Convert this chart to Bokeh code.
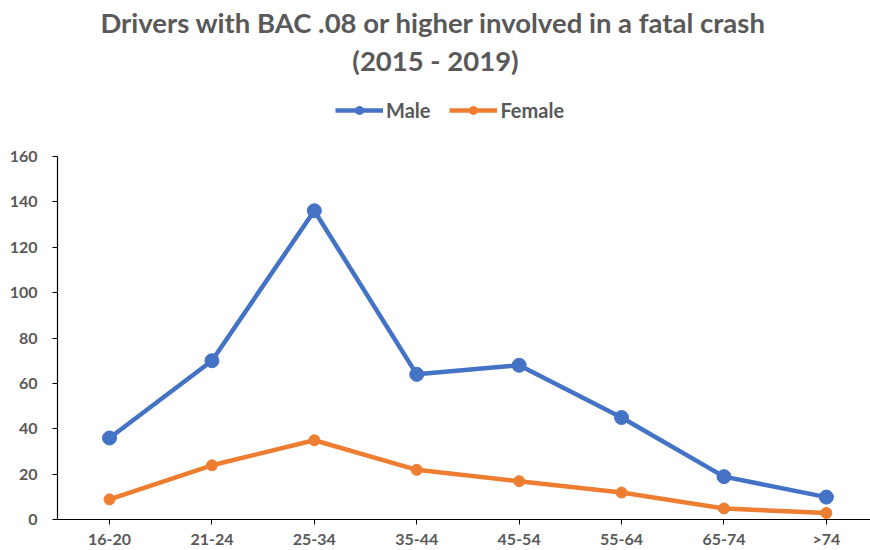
from bokeh.plotting import figure
from bokeh.models import Range1d, FixedTicker, Legend, LegendItem, Label
from bokeh.embed import file_html
from bokeh.resources import INLINE

categories = ["16-20", "21-24", "25-34", "35-44", "45-54", "55-64", "65-74", ">74"]
male = [36, 70, 136, 64, 68, 45, 19, 10]
female = [9, 24, 35, 22, 17, 12, 5, 3]
y_ticks = [0, 20, 40, 60, 80, 100, 120, 140, 160]
title_line1 = "Drivers with BAC .08 or higher involved in a fatal crash"
title_line2 = "(2015 - 2019)"

TEXT = "#595959"
FONT = "Lato"
BLUE = "#4472C4"
ORANGE = "#ED7D31"

xs = list(range(len(categories)))

p = figure(width=870, height=550, output_backend="svg", toolbar_location=None,
           x_range=Range1d(-0.508, 7.431), y_range=Range1d(-13.5, 228.5),
           min_border_left=57, min_border_right=0, min_border_top=0, min_border_bottom=0)
p.outline_line_color = None
p.xgrid.grid_line_color = None
p.ygrid.grid_line_color = None
p.background_fill_color = "white"
p.border_fill_color = "white"

lm = p.line(xs, male, line_color=BLUE, line_width=4.5)
sm = p.scatter(xs, male, size=14, fill_color=BLUE, line_color=BLUE)
lf = p.line(xs, female, line_color=ORANGE, line_width=4.5)
sf = p.scatter(xs, female, size=11, fill_color=ORANGE, line_color=ORANGE)

for ax in (p.xaxis[0], p.yaxis[0]):
    ax.axis_line_color = "#000000"
    ax.axis_line_width = 1.2
    ax.major_tick_line_color = "#000000"
    ax.major_tick_out = 5
    ax.major_tick_in = 0
    ax.minor_tick_line_color = None
    ax.major_label_text_font = FONT
    ax.major_label_text_font_style = "bold"
    ax.major_label_text_font_size = "16px"
    ax.major_label_text_color = TEXT

p.xaxis.ticker = FixedTicker(ticks=xs)
p.xaxis.major_label_overrides = {i: c for i, c in enumerate(categories)}
p.xaxis.major_label_standoff = 4
p.xaxis.fixed_location = 0
p.yaxis.ticker = FixedTicker(ticks=y_ticks)
p.yaxis.bounds = (y_ticks[0], y_ticks[-1])
p.yaxis.major_label_standoff = 15

legend = Legend(items=[LegendItem(label="Male", renderers=[lm, sm]),
                       LegendItem(label="Female", renderers=[lf, sf])],
                orientation="horizontal", location=(278, 428),
                border_line_color=None, background_fill_alpha=0,
                label_text_font=FONT, label_text_font_style="bold",
                label_text_font_size="20px", label_text_color=TEXT,
                glyph_width=48, glyph_height=20, label_standoff=3,
                spacing=19, padding=0, margin=0)
p.add_layout(legend, "center")

for txt, yy, xx in ((title_line1, 528, 376), (title_line2, 490, 378)):
    p.add_layout(Label(x=xx, y=yy, x_units="screen", y_units="screen", text=txt,
                       text_align="center", text_baseline="middle",
                       text_font=FONT, text_font_style="bold",
                       text_font_size="27.5px", text_color=TEXT))

open("out.html", "w").write(file_html(p, INLINE))
